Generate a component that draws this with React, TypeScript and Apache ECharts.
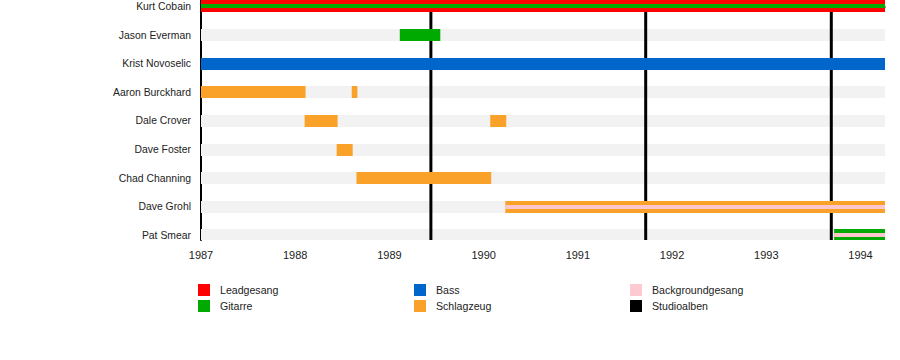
import React, { useEffect, useRef } from "react";
import * as echarts from "echarts";

const members = [
  "Kurt Cobain",
  "Jason Everman",
  "Krist Novoselic",
  "Aaron Burckhard",
  "Dale Crover",
  "Dave Foster",
  "Chad Channing",
  "Dave Grohl",
  "Pat Smear",
];

const START = 1987;
const END = 1994.26;
const yearTicks = [1987, 1988, 1989, 1990, 1991, 1992, 1993, 1994];

// [memberIndex, start, end]
const leadVocals = [[0, 1987, 1994.26]];
const guitar = [
  [1, 1989.11, 1989.54],
  [8, 1993.72, 1994.26],
];
const guitarSecondary = [[0, 1987, 1994.26]];
const bass = [[2, 1987, 1994.26]];
const drums = [
  [3, 1987, 1988.11],
  [3, 1988.6, 1988.66],
  [4, 1988.1, 1988.45],
  [4, 1990.07, 1990.24],
  [5, 1988.44, 1988.61],
  [6, 1988.65, 1990.08],
  [7, 1990.23, 1994.26],
];
const backingVocalsSecondary = [
  [7, 1990.23, 1994.26],
  [8, 1993.72, 1994.26],
];
const studioAlbums = [1989.44, 1991.72, 1993.69];

const legendLabels = ["Leadgesang", "Gitarre", "Bass", "Schlagzeug", "Backgroundgesang", "Studioalben"];
const legendColors = ["#ff0000", "#00aa00", "#0066cc", "#faa12a", "#fccad0", "#000000"];

const C = {
  lead: "#ff0000",
  guitar: "#00aa00",
  bass: "#0066cc",
  drums: "#faa12a",
  backing: "#fcc6cc",
  grey: "#f2f2f2",
};

const FONT = "'Liberation Sans', Arial, sans-serif";
const Y_MIN = -0.2235;
const Y_MAX = 8.1595;

function barRender(color: string, h: number) {
  return (params: any, api: any) => {
    const row = api.value(0);
    const s = api.coord([api.value(1), row]);
    const e = api.coord([api.value(2), row]);
    const y = Math.round(s[1] - h / 2);
    const rect = echarts.graphic.clipRectByRect(
      { x: s[0], y, width: e[0] - s[0], height: h },
      params.coordSys
    );
    if (!rect) return null;
    return { type: "rect", shape: rect, style: { fill: color } };
  };
}

function barSeries(name: string, data: number[][], color: string, h: number, z: number) {
  return {
    type: "custom",
    name,
    data,
    z,
    renderItem: barRender(color, h),
    silent: true,
  };
}

export default function App() {
  const ref = useRef<HTMLDivElement>(null);
  useEffect(() => {
    if (!ref.current) return;
    const chart = echarts.init(ref.current, null, { renderer: "svg" });
    const greyData = members.map((_, i) => [i, START, END]);
    const legendGraphics: any[] = [];
    legendLabels.forEach((label, i) => {
      const col = Math.floor(i / 2);
      const row = i % 2;
      const x = 198 + col * 216;
      const y = 284 + row * 16;
      legendGraphics.push({
        type: "rect",
        shape: { x, y, width: 12, height: 12 },
        style: { fill: legendColors[i] },
      });
      legendGraphics.push({
        type: "text",
        x: x + 22,
        y: y + 6,
        style: {
          text: label,
          fill: "#222",
          font: `10.6px ${FONT}`,
          verticalAlign: "middle",
          align: "left",
        },
      });
    });
    chart.setOption({
      animation: false,
      textStyle: { fontFamily: FONT },
      grid: { left: 201, right: 15, top: 0, height: 240, containLabel: false },
      xAxis: {
        type: "value",
        min: START,
        max: END,
        interval: 1,
        splitLine: { show: false },
        axisLine: { show: true, lineStyle: { color: "#000", width: 1.5 } },
        axisTick: { show: true, length: 5, customValues: yearTicks, lineStyle: { color: "#000" } },
        axisLabel: {
          customValues: yearTicks,
          formatter: (v: number) => String(Math.round(v)),
          color: "#222",
          fontSize: 11,
          margin: 9,
          fontFamily: FONT,
        },
      },
      yAxis: {
        type: "value",
        inverse: true,
        min: Y_MIN,
        max: Y_MAX,
        splitLine: { show: false },
        axisLine: { show: true, lineStyle: { color: "#000", width: 2 } },
        axisTick: { show: false },
        axisLabel: {
          customValues: members.map((_, i) => i),
          formatter: (v: number) => members[Math.round(v)] ?? "",
          color: "#222",
          fontSize: 10.4,
          margin: 10,
          fontFamily: FONT,
        },
      },
      graphic: legendGraphics,
      series: [
        barSeries("grey", greyData, C.grey, 12, 1),
        {
          type: "custom",
          name: "Studioalben",
          data: studioAlbums.map((d) => [d]),
          z: 2,
          silent: true,
          renderItem: (params: any, api: any) => {
            const d = api.value(0);
            const p1 = api.coord([d, Y_MIN]);
            const p2 = api.coord([d, Y_MAX]);
            return {
              type: "line",
              shape: { x1: p1[0], y1: p1[1], x2: p2[0], y2: p2[1] },
              style: { stroke: "#000", lineWidth: 3 },
            };
          },
        },
        barSeries("Leadgesang", leadVocals, C.lead, 12, 3),
        barSeries("Gitarre", guitar, C.guitar, 12, 3),
        barSeries("Bass", bass, C.bass, 12, 3),
        barSeries("Schlagzeug", drums, C.drums, 12, 3),
        barSeries("Gitarre2", guitarSecondary, C.guitar, 4, 4),
        barSeries("Backgroundgesang", backingVocalsSecondary, C.backing, 4, 4),
      ],
    });
    return () => chart.dispose();
  }, []);
  return (
    <div
      ref={ref}
      style={{ position: "fixed", left: 0, top: 0, width: 900, height: 360, background: "#fff" }}
    />
  );
}
